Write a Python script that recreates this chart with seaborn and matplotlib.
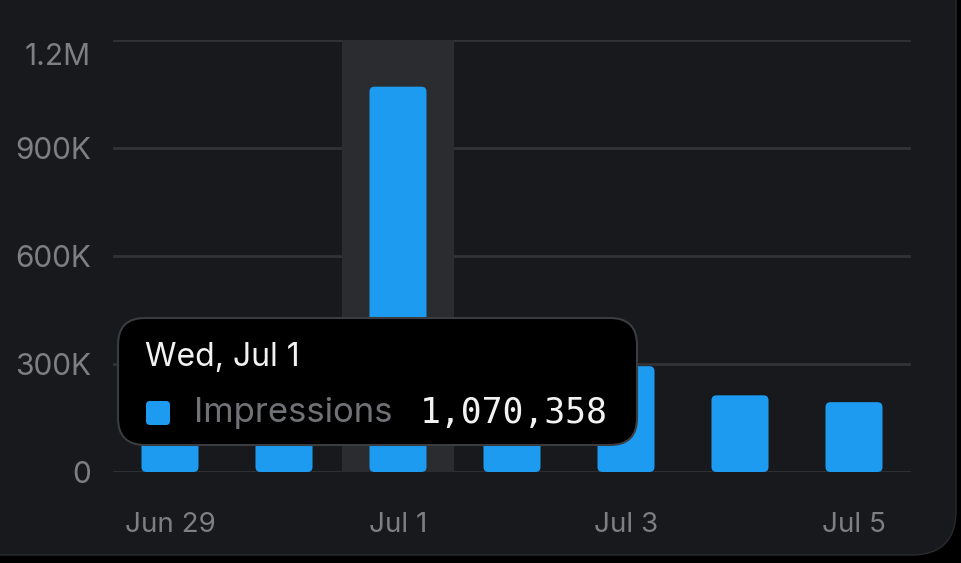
import numpy as np
import pandas as pd
import matplotlib
matplotlib.use("Agg")
import matplotlib.pyplot as plt
import matplotlib.transforms as mtransforms
import seaborn as sns
from matplotlib.patches import FancyBboxPatch

# data (Jun 29, Jun 30 and Jul 2 are hidden behind the tooltip -> estimates)
days = ["Jun 29", "Jun 30", "Jul 1", "Jul 2", "Jul 3", "Jul 4", "Jul 5"]
impressions = [280000, 250000, 1070358, 360000, 294000, 213000, 194000]
tick_labels = ["Jun 29", "", "Jul 1", "", "Jul 3", "", "Jul 5"]
yticks = [0, 300000, 600000, 900000, 1200000]
ytick_labels = ["0", "300K", "600K", "900K", "1.2M"]
hover_idx = 2
hover_title = "Wed, Jul 1"
series_name = "Impressions"

bg = "#18191c"
blue = "#1d9bf0"
grid_c = "#313236"
band_c = "#2b2c30"
txt_gray = "#7d7f84"

sns.set_theme(style="dark")
plt.rcParams["font.family"] = ["Inter", "DejaVu Sans"]

W, H = 961, 563
fig = plt.figure(figsize=(W / 100, H / 100), dpi=100)
fig.patch.set_facecolor("black")

# card background with rounded bottom-right corner
card = FancyBboxPatch((-60 / W, 8 / H), (956 + 60) / W, (H - 8 + 60) / H,
                      boxstyle="round,pad=0,rounding_size=0.046",
                      mutation_aspect=W / H,
                      transform=fig.transFigure, facecolor=bg,
                      edgecolor="#2a2b2e", lw=1, zorder=-5)
fig.patches.append(card)

ax = fig.add_axes([113 / W, (H - 472) / H, (911 - 113) / W, (472 - 40) / H])
ax.set_facecolor("none")

df = pd.DataFrame({"day": days, "value": impressions})
sns.barplot(data=df, x="day", y="value", color=blue, width=0.5, saturation=1,
            ax=ax, zorder=3)

ax.set_xlim(-0.5, 6.5)
ax.set_ylim(0, 1200000)

# rounded bars
px_x = 1 / 114.0
px_y = 1200000 / 432.0
for p in list(ax.patches):
    x0, y0 = p.get_x(), p.get_y()
    w, h = p.get_width(), p.get_height()
    p.remove()
    r = 5 * px_x
    ax.add_patch(FancyBboxPatch((x0, y0), w, h,
                                boxstyle=f"round,pad=0,rounding_size={r}",
                                mutation_aspect=px_y / px_x,
                                facecolor=blue, edgecolor="none", zorder=3))

# hover band
ax.axvspan(hover_idx - 0.49, hover_idx + 0.49, color=band_c, zorder=1, lw=0)

ax.set_yticks(yticks)
ax.set_yticklabels(ytick_labels)
ax.set_xticks(range(len(days)))
ax.set_xticklabels(tick_labels)
ax.set_xlabel("")
ax.set_ylabel("")
for s in ax.spines.values():
    s.set_visible(False)
ax.grid(axis="y", color=grid_c, lw=2, zorder=0)
ax.grid(axis="x", visible=False)
ax.set_axisbelow(True)
ax.tick_params(axis="y", length=0, pad=16, labelsize=21.5, labelcolor=txt_gray)
ax.tick_params(axis="x", length=0, pad=29, labelsize=20, labelcolor=txt_gray)

# top y label sits a bit below its gridline
top_lbl = ax.get_yticklabels()[-1]
top_lbl.set_transform(top_lbl.get_transform() +
                      mtransforms.ScaledTranslation(0, -14 / 100, fig.dpi_scale_trans))

# tooltip
tip = FancyBboxPatch((118 / W, (H - 445) / H), (637 - 118) / W, (445 - 318) / H,
                     boxstyle="round,pad=0,rounding_size=0.028",
                     mutation_aspect=W / H,
                     transform=fig.transFigure, facecolor="black",
                     edgecolor="#3b3c40", lw=1.5, zorder=10)
fig.patches.append(tip)
fig.text(145 / W, (H - 357) / H, hover_title, color="#f2f2f2", fontsize=23,
         va="center", ha="left", zorder=11)
sq = FancyBboxPatch((146 / W, (H - 425) / H), 24 / W, 24 / H,
                    boxstyle="round,pad=0,rounding_size=0.004",
                    mutation_aspect=W / H,
                    transform=fig.transFigure, facecolor=blue, edgecolor="none", zorder=11)
fig.patches.append(sq)
fig.text(194 / W, (H - 413) / H, series_name, color="#707276", fontsize=25,
         va="center", ha="left", zorder=11)
fig.text(608 / W, (H - 413) / H, f"{impressions[hover_idx]:,}", color="#f2f2f2",
         fontsize=25, va="center", ha="right", family="DejaVu Sans Mono", zorder=11)

fig.savefig("out.png", dpi=100, facecolor=fig.get_facecolor())
